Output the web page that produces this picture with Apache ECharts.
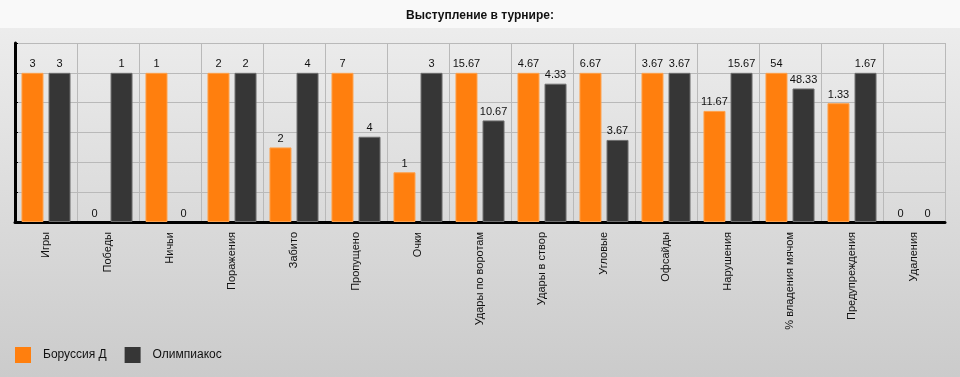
<!DOCTYPE html>
<html>
<head>
<meta charset="utf-8">
<script src="https://cdn.jsdelivr.net/npm/echarts@6/dist/echarts.min.js"></script>
<style>
  html, body { margin: 0; padding: 0; }
  #chart { width: 960px; height: 377px; }
</style>
</head>
<body>
<div id="chart"></div>
<script>
// статистика турнира
var categories = ['Игры', 'Победы', 'Ничьи', 'Поражения', 'Забито', 'Пропущено', 'Очки',
  'Удары по воротам', 'Удары в створ', 'Угловые', 'Офсайды', 'Нарушения',
  '% владения мячом', 'Предупреждения', 'Удаления'];
var borussia = [3, 0, 1, 2, 2, 7, 1, 15.67, 4.67, 6.67, 3.67, 11.67, 54, 1.33, 0];
var olympiakos = [3, 1, 0, 2, 4, 4, 3, 10.67, 4.33, 3.67, 3.67, 15.67, 48.33, 1.67, 0];

// высота столбика = доля от большего значения в паре
function share(own, other) {
  return own.map(function (v, i) {
    var m = Math.max(v, other[i]);
    return {
      value: m ? v / m * 100 : 0,
      itemStyle: v ? {} : { borderWidth: 0 }
    };
  });
}

var font = 'Liberation Sans, Arial, sans-serif';

function makeSeries(name, raw, other, color, border) {
  return {
    name: name,
    type: 'bar',
    barWidth: 22,
    barGap: '23%',
    data: share(raw, other),
    itemStyle: { color: color, borderColor: border, borderWidth: 1 },
    label: {
      show: true,
      position: 'top',
      distance: 3,
      color: '#111',
      fontFamily: font,
      fontSize: 11,
      formatter: function (p) { return String(raw[p.dataIndex]); }
    }
  };
}

var chart = echarts.init(document.getElementById('chart'));
chart.setOption({
  animation: false,
  backgroundColor: new echarts.graphic.LinearGradient(0, 0, 0, 1, [
    { offset: 0, color: '#efefef' },
    { offset: 1, color: '#cbcbcb' }
  ]),
  graphic: [{
    type: 'rect',
    shape: { x: 0, y: 0, width: 960, height: 28 },
    style: { fill: '#f9f9f9' },
    z: -1
  }],
  title: {
    text: 'Выступление в турнире:',
    left: 'center',
    top: 5,
    textStyle: { fontFamily: font, fontSize: 12, fontWeight: 'bold', color: '#111' }
  },
  legend: {
    left: 10,
    top: 342,
    itemWidth: 16,
    itemHeight: 16,
    itemGap: 18,
    icon: 'rect',
    itemStyle: { borderWidth: 0 },
    textStyle: { fontFamily: font, fontSize: 12, color: '#111', padding: [0, 0, 0, 7] },
    data: ['Боруссия Д', 'Олимпиакос']
  },
  grid: { left: 15, right: 15, top: 43, bottom: 155 },
  xAxis: {
    type: 'category',
    data: categories,
    axisLine: { lineStyle: { color: '#000', width: 3 } },
    axisTick: { alignWithLabel: true, length: 6, lineStyle: { color: '#000', width: 1 } },
    axisLabel: { rotate: 90, margin: 10, interval: 0, fontFamily: font, fontSize: 11, color: '#111' },
    splitLine: { show: true, lineStyle: { color: '#b9b9b9', width: 1 } }
  },
  yAxis: {
    type: 'value',
    min: 0,
    max: 120,
    interval: 20,
    axisLine: { show: true, lineStyle: { color: '#000', width: 3 } },
    axisTick: { show: true, inside: true, length: 3, lineStyle: { color: '#000' } },
    axisLabel: { show: false },
    splitLine: { lineStyle: { color: '#b9b9b9', width: 1 } }
  },
  series: [
    makeSeries('Боруссия Д', borussia, olympiakos, '#ff7f0e', '#ffa04a'),
    makeSeries('Олимпиакос', olympiakos, borussia, '#363636', '#6e6e6e')
  ]
});
</script>
</body>
</html>
